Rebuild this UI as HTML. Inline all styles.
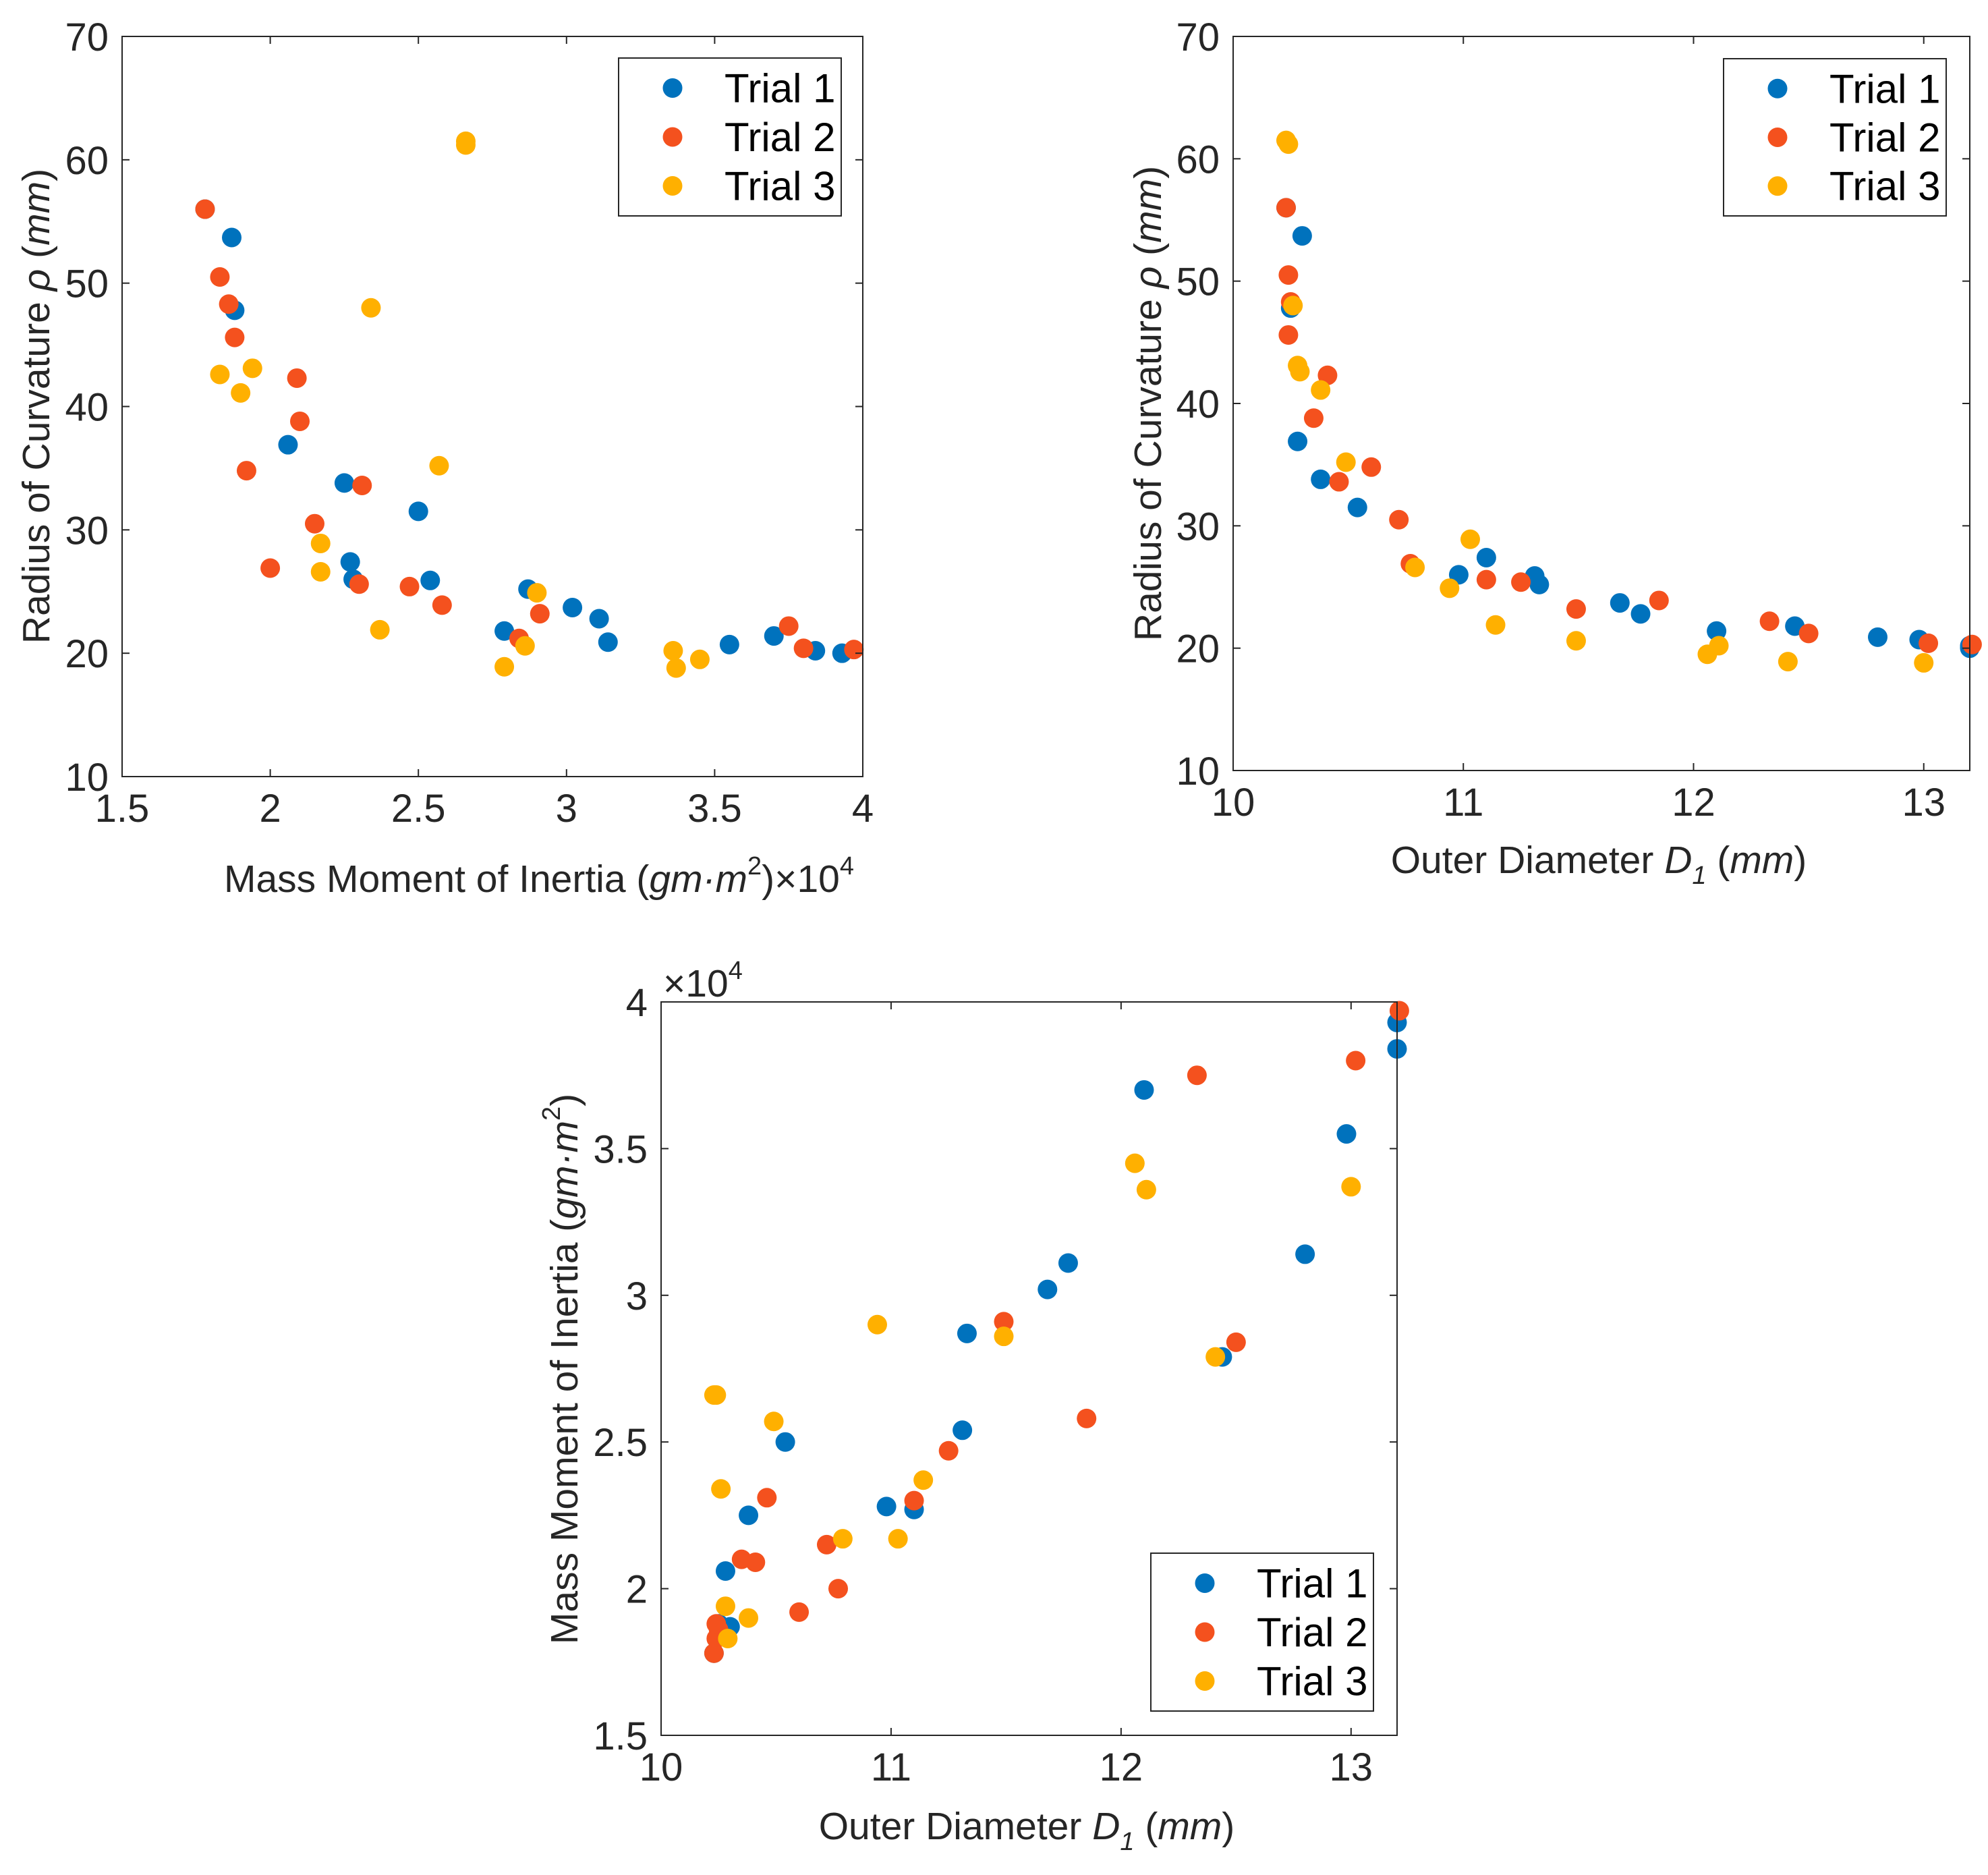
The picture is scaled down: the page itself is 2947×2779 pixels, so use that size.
<!DOCTYPE html>
<html><head><meta charset="utf-8"><style>
html,body{margin:0;padding:0;background:#fff;}
svg{display:block;font-family:"Liberation Sans",Arial,sans-serif;}
</style></head><body>
<svg id="fig" width="2947" height="2779" viewBox="0 0 2947 2779" xmlns="http://www.w3.org/2000/svg">
<rect width="2947" height="2779" fill="#fff"/>
</svg>
<script>
// Trial data (each measurement: outer diameter D1 mm, inertia x1e4 gm·m², radius of curvature mm)
const t1D   = [10.23,10.30,10.25,10.28,10.38,10.54,10.98,11.10,11.31,11.33,11.68,11.77,12.10,12.44,12.80,12.98,13.20,13.20];
const t1I   = [1.78,1.87,1.88,2.06,2.25,2.50,2.28,2.27,2.54,2.87,3.02,3.11,3.70,2.79,3.14,3.55,3.93,3.84];
const t1Rho = [56.0,53.7,47.8,36.9,33.8,31.5,26.0,27.4,25.9,25.2,23.7,22.8,21.4,21.8,20.9,20.7,20.0,20.2];

const t2D   = [10.23,10.24,10.25,10.24,10.41,10.35,10.60,10.46,10.72,10.77,11.10,11.25,11.49,11.85,12.33,12.50,13.02,13.21];
const t2I   = [1.78,1.83,1.86,1.88,2.09,2.10,1.92,2.31,2.15,2.00,2.30,2.47,2.91,2.58,3.75,2.84,3.80,3.97];
const t2Rho = [56.0,50.5,48.3,45.6,42.3,38.8,34.8,33.6,30.5,26.9,25.6,25.4,23.2,23.9,22.2,21.2,20.4,20.3];

const t3D   = [10.23,10.24,10.26,10.28,10.29,10.38,10.49,11.03,10.79,10.94,11.14,11.49,12.06,12.11,12.41,13.00];
const t3I   = [2.66,2.66,2.34,1.94,1.83,1.90,2.57,2.17,2.17,2.90,2.37,2.86,3.45,3.36,2.79,3.37];
const t3Rho = [61.5,61.2,48.0,43.1,42.6,41.1,35.2,28.9,26.6,24.9,21.9,20.6,19.5,20.2,18.9,18.8];

const trialNames = ["Trial 1","Trial 2","Trial 3"];
const rhoTicks = [10,20,30,40,50,60,70];
const inertiaTicks = [1.5,2,2.5,3,3.5,4];
const inertiaTickLabels = ["1.5","2","2.5","3","3.5","4"];
const diamTicks = [10,11,12,13];

const colors = ["#0072BD","#F4511E","#FFB000"];
const NS = "http://www.w3.org/2000/svg";
const fig = document.getElementById('fig');
const FS = 58;

function el(tag, attrs, parent){
  const e = document.createElementNS(NS, tag);
  for (const k in attrs) e.setAttribute(k, attrs[k]);
  (parent||fig).appendChild(e);
  return e;
}

function chart(name, box, xr, yr, xt, xtl, yt, ytl, series, legendBox){
  const g = el('g', {});
  
  
  const sx = v => box.l + (v - xr[0]) / (xr[1] - xr[0]) * (box.r - box.l);
  const sy = v => box.b - (v - yr[0]) / (yr[1] - yr[0]) * (box.b - box.t);
  series.forEach((s, si) => {
    const sg = el('g', {}, g);
    
    
    s.x.forEach((xv, i) => {
      const c = el('circle', {cx: sx(xv), cy: sy(s.y[i]), r: 14.5, fill: colors[si]}, sg);
      
      
    });
  });
  const frame = el('rect', {x: box.l, y: box.t, width: box.r-box.l, height: box.b-box.t, fill: 'none', stroke: '#262626', 'stroke-width': 2}, g);
  
  
  const tl = 11;
  xt.forEach((v, i) => {
    const x = sx(v);
    el('line', {x1:x, y1:box.b, x2:x, y2:box.b-tl, stroke:'#262626','stroke-width':2}, g);
    el('line', {x1:x, y1:box.t, x2:x, y2:box.t+tl, stroke:'#262626','stroke-width':2}, g);
    const t = el('text', {x:x, y:box.b+67, 'text-anchor':'middle', 'font-size':FS, fill:'#262626'}, g);
    t.textContent = xtl[i];
    
    
  });
  yt.forEach((v, i) => {
    const y = sy(v);
    el('line', {x1:box.l, y1:y, x2:box.l+tl, y2:y, stroke:'#262626','stroke-width':2}, g);
    el('line', {x1:box.r, y1:y, x2:box.r-tl, y2:y, stroke:'#262626','stroke-width':2}, g);
    const t = el('text', {x:box.l-20, y:y+21, 'text-anchor':'end', 'font-size':FS, fill:'#262626'}, g);
    t.textContent = ytl[i];
    
    
  });
  const lg = el('g', {}, g);
  
  
  el('rect', {x:legendBox.l, y:legendBox.t, width:legendBox.r-legendBox.l, height:legendBox.b-legendBox.t, fill:'#fff', stroke:'#262626','stroke-width':2}, lg);
  const h = (legendBox.b - legendBox.t);
  trialNames.forEach((n, i) => {
    const cy = legendBox.t + h*(0.19 + 0.31*i);
    const e = el('g', {}, lg);
    
    
    el('circle', {cx: legendBox.l + 80, cy: cy, r: 14.5, fill: colors[i]}, e);
    const t = el('text', {x: legendBox.l + 157, y: cy + 21, 'font-size': 60, fill:'#000'}, e);
    t.textContent = n;
  });
  return g;
}

function ylabel(name, x, y, html){
  const t = el('text', {x:x, y:y, transform:`rotate(-90 ${x} ${y})`, 'text-anchor':'middle', 'font-size':57, fill:'#262626'});
  t.innerHTML = html;
  
  
}
function xlabel(name, x, y, html){
  const t = el('text', {x:x, y:y, 'text-anchor':'middle', 'font-size':57, fill:'#262626'});
  t.innerHTML = html;
  
  
}

chart('chart-rho-vs-inertia', {l:181,r:1279,t:54,b:1151}, [1.5,4], [10,70],
  inertiaTicks, inertiaTickLabels, rhoTicks, rhoTicks.map(String),
  [{x:t1I,y:t1Rho},{x:t2I,y:t2Rho},{x:t3I,y:t3Rho}],
  {l:917,r:1247,t:86,b:320});
ylabel('y-axis-title-rho-1', 73, 602, 'Radius of Curvature <tspan font-style="italic">ρ</tspan> (<tspan font-style="italic">mm</tspan>)');
xlabel('x-axis-title-inertia', 799, 1322, 'Mass Moment of Inertia (<tspan font-style="italic">gm·m</tspan><tspan font-size="38" dy="-26">2</tspan><tspan dy="26">)×10</tspan><tspan font-size="38" dy="-26">4</tspan>');

chart('chart-rho-vs-diameter', {l:1828,r:2920,t:54,b:1142}, [10,13.2], [10,70],
  diamTicks, diamTicks.map(String), rhoTicks, rhoTicks.map(String),
  [{x:t1D,y:t1Rho},{x:t2D,y:t2Rho},{x:t3D,y:t3Rho}],
  {l:2555,r:2885,t:87,b:320});
ylabel('y-axis-title-rho-2', 1721, 598, 'Radius of Curvature <tspan font-style="italic">ρ</tspan> (<tspan font-style="italic">mm</tspan>)');
xlabel('x-axis-title-diameter-1', 2370, 1294, 'Outer Diameter <tspan font-style="italic">D</tspan><tspan font-style="italic" font-size="38" dy="16">1</tspan><tspan dy="-16"> (</tspan><tspan font-style="italic">mm</tspan>)');

chart('chart-inertia-vs-diameter', {l:980,r:2071,t:1485,b:2572}, [10,13.2], [1.5,4],
  diamTicks, diamTicks.map(String), inertiaTicks, inertiaTickLabels,
  [{x:t1D,y:t1I},{x:t2D,y:t2I},{x:t3D,y:t3I}],
  {l:1706,r:2036,t:2302,b:2536});
ylabel('y-axis-title-inertia', 856, 2029, 'Mass Moment of Inertia (<tspan font-style="italic">gm·m</tspan><tspan font-size="38" dy="-26">2</tspan><tspan dy="26">)</tspan>');
xlabel('x-axis-title-diameter-2', 1522, 2726, 'Outer Diameter <tspan font-style="italic">D</tspan><tspan font-style="italic" font-size="38" dy="16">1</tspan><tspan dy="-16"> (</tspan><tspan font-style="italic">mm</tspan>)');
const ex = el('text', {x:983, y:1477, 'font-size':57, fill:'#262626'});
ex.innerHTML = '×10<tspan font-size="38" dy="-26">4</tspan>';


</script>
</body></html>
